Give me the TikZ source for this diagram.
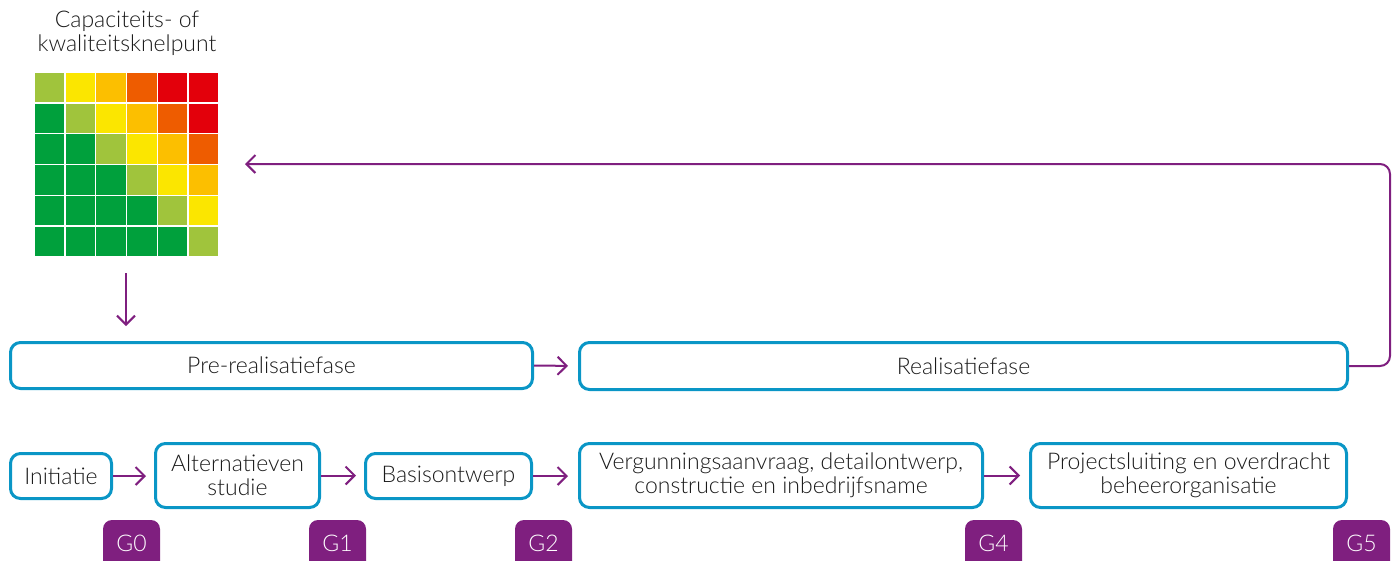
\documentclass[tikz,border=0pt]{standalone}
\usepackage{fontspec}
\setmainfont{Lato}[UprightFont=* Light]
\usetikzlibrary{arrows.meta,calc}
\definecolor{blu}{HTML}{0A96C6}
\definecolor{pur}{HTML}{7F1F7F}
\definecolor{txt}{HTML}{1A1A1A}
\definecolor{cG}{HTML}{00A03C}
\definecolor{cLG}{HTML}{A0C43C}
\definecolor{cY}{HTML}{FBE600}
\definecolor{cA}{HTML}{FCBF00}
\definecolor{cO}{HTML}{EE5C00}
\definecolor{cR}{HTML}{E3000B}
\tikzset{
  phase/.style={draw=blu, line width=3pt, rounded corners=10pt, inner sep=0pt,
    text=txt, font=\fontsize{23}{24}\selectfont, align=center},
  twoline/.style={text depth=0pt, yshift=0pt},
  conn/.style={draw=pur, line width=2pt, -{Straight Barb[length=9pt,width=18pt,line width=2pt]}},
  badgetxt/.style={text=white, font=\fontsize{23}{24}\selectfont, inner sep=0pt},
  cell/.style={draw=white, line width=1.5pt}
}
\begin{document}
\begin{tikzpicture}[x=1pt,y=-1pt]
\useasboundingbox (0,0) rectangle (1397,560);
% title
\node[text=txt, font=\fontsize{23}{24}\selectfont, align=center] (title) at (127,33) {Capaciteits- of\\kwaliteitsknelpunt};
% matrix
\foreach \r in {0,...,5}{
  \foreach \c in {0,...,5}{
    \pgfmathtruncatemacro{\d}{\c-\r}
    \ifnum\d<0 \def\col{cG}\fi
    \ifnum\d=0 \def\col{cLG}\fi
    \ifnum\d=1 \def\col{cY}\fi
    \ifnum\d=2 \def\col{cA}\fi
    \ifnum\d=3 \def\col{cO}\fi
    \ifnum\d>3 \def\col{cR}\fi
    \filldraw[cell, fill=\col] (34+\c*30.83,72+\r*30.83) rectangle ++(30.83,30.83);
  }
}
\coordinate (matb) at (126,257);
\coordinate (matr) at (219,164);
% phases
\node[phase, minimum width=522pt, minimum height=46pt] (pre) at (271.5,365.5) {Pre-realisatiefase};
\node[phase, minimum width=768pt, minimum height=47pt] (real) at (963.5,366) {Realisatiefase};
% steps
\node[phase, minimum width=101pt, minimum height=45pt] (ini) at (61,476) {Initiatie};
\node[phase, minimum width=164pt, minimum height=64pt] (alt) at (237.5,475.5) {Alternatieven\\studie};
\node[phase, minimum width=166pt, minimum height=45pt] (bas) at (448.5,476) {Basisontwerp};
\node[phase, minimum width=403pt, minimum height=64pt] (ver) at (781,475.5) {Vergunningsaanvraag, detailontwerp,\\constructie en inbedrijfsname};
\node[phase, minimum width=316pt, minimum height=64pt] (pro) at (1188.5,475.5) {Projectsluiting en overdracht\\beheerorganisatie};
% connectors
\draw[conn, shorten <=16pt, shorten >=15pt] (matb) -- (matb |- pre.north);
\draw[conn, shorten >=10pt] (pre.east) -- (real.west);
\draw[conn, shorten >=8pt] (ini.east) -- (ini.east -| alt.west);
\draw[conn, shorten >=8pt] (alt.east) -- (alt.east -| bas.west);
\draw[conn, shorten >=10pt] (bas.east) -- (bas.east -| ver.west);
\draw[conn, shorten >=9pt] (ver.east) -- (ver.east -| pro.west);
\draw[conn, rounded corners=10pt, shorten >=26pt] (real.east) -- (1390,366) -- (1390,164) -- (matr);
% badges
\foreach \nm/\lab/\x in {g0/G0/103, g1/G1/309, g2/G2/515, g4/G4/965, g5/G5/1333}{
  \fill[pur, rounded corners=9pt] (\x,580) -- (\x,520) -- (\x+57,520) -- (\x+57,580) -- cycle;
  \node[badgetxt] (\nm) at (\x+28.5,543) {\lab};
}
\end{tikzpicture}
\end{document}
